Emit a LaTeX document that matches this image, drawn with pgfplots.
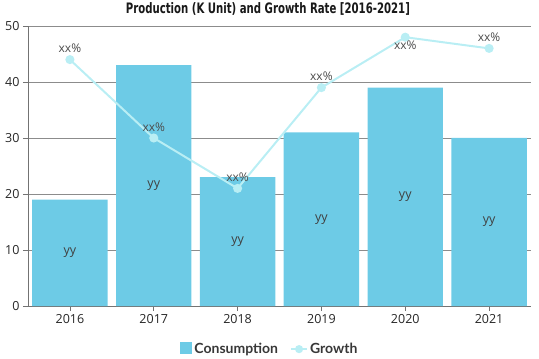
\documentclass[border=0pt]{standalone}
\usepackage{pgfplots}
\pgfplotsset{compat=1.18}
\usepackage{pgfplotstable}
\usepackage{fontspec}
\setmainfont{Open Sans}
\newfontfamily\titlefont{DejaVu Sans Condensed}
\newfontfamily\legfont{Lato}
\definecolor{barc}{HTML}{6DCBE6}
\definecolor{linec}{HTML}{B9EEF4}

\pgfplotstableread{
x y
0 19
1 43
2 23
3 31
4 39
5 30
}\consumptiontab

\pgfplotstableread{
x y
0 9.5
1 21.5
2 11.5
3 15.5
4 19.5
5 15
}\midtab

\pgfplotstableread{
x y
0 44
1 30
2 21
3 39
4 48
5 46
}\growthtab

\pgfplotstableread{
x y
0 44
1 30
2 21
3 39
5 46
}\growthabove

\pgfplotstableread{
x y
4 48
}\growthbelow

\begin{document}
\begin{tikzpicture}
\path[use as bounding box] (-28pt,-53pt) rectangle (511pt,306pt);
\begin{axis}[
  scale only axis, width=503pt, height=280pt,
  at={(0,0)}, anchor=south west,
  xmin=-0.5, xmax=5.5, ymin=0, ymax=50,
  xtick={0,1,2,3,4,5},
  xticklabels={2016,2017,2018,2019,2020,2021},
  ytick={0,10,20,30,40,50},
  ymajorgrids,
  grid style={draw=black!45, line width=0.6pt},
  axis x line*=bottom, axis y line*=left,
  axis line style={draw=black!55, line width=0.7pt},
  tick style={draw=black!55, line width=0.6pt},
  tick align=outside,
  major tick length=5pt,
  /pgf/number format/assume math mode=true,
  ticklabel style={font=\fontsize{12.5}{14}\selectfont, text=black!85},
  clip=false,
  legend style={draw=none, legend columns=-1, at={(0.481,-0.154)}, anchor=center,
    font=\legfont\bfseries\fontsize{14}{16}\selectfont, text=black!78,
    /tikz/every even column/.append style={column sep=10pt}},
]
\addplot[ybar, bar width=0.9, fill=barc, draw=none,
  legend image code/.code={\fill[barc] (0pt,-5pt) rectangle (12pt,7pt);}]
  table[x=x,y=y] {\consumptiontab};
\addlegendentry{Consumption}
\addplot[draw=none, mark=none, forget plot, nodes near coords={yy},
  every node near coord/.append style={anchor=center, font=\fontsize{12.5}{14}\selectfont, text=black!75}]
  table[x=x,y=y] {\midtab};
\addplot[color=linec, line width=2pt, mark=*, mark size=3.5pt, mark options={fill=linec, draw=linec},
  legend image code/.code={\draw[linec, line width=2pt] (0pt,0pt) -- (16pt,0pt); \fill[linec] (8pt,0pt) circle (3pt);}]
  table[x=x,y=y] {\growthtab};
\addlegendentry{Growth}
\addplot[draw=none, mark=none, forget plot, nodes near coords={xx\%},
  every node near coord/.append style={anchor=south, yshift=3pt, font=\fontsize{12}{14}\selectfont, text=black!70}]
  table[x=x,y=y] {\growthabove};
\addplot[draw=none, mark=none, forget plot, nodes near coords={xx\%},
  every node near coord/.append style={anchor=north, font=\fontsize{12}{14}\selectfont, text=black!70}]
  table[x=x,y=y] {\growthbelow};
\node[text=black!90] at (rel axis cs:0.477,1) [yshift=17pt]
  {\titlefont\bfseries\fontsize{12}{14}\selectfont\scalebox{0.94}[1.2]{Production (K Unit) and Growth Rate [2016-2021]}};
\end{axis}
\end{tikzpicture}
\end{document}
